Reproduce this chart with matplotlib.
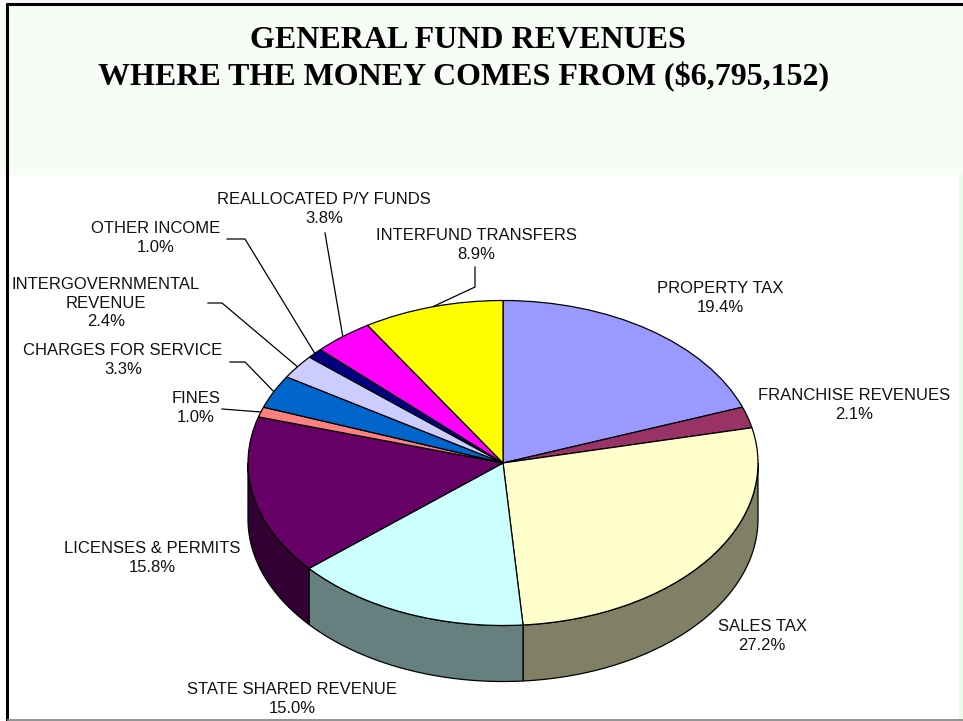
import numpy as np
import matplotlib
matplotlib.use("Agg")
import matplotlib.pyplot as plt
from matplotlib.patches import Polygon, Rectangle
from matplotlib.colors import to_rgb

# ---- data ----
names = ["PROPERTY TAX", "FRANCHISE REVENUES", "SALES TAX", "STATE SHARED REVENUE",
         "LICENSES & PERMITS", "FINES", "CHARGES FOR SERVICE",
         "INTERGOVERNMENTAL\nREVENUE", "OTHER INCOME", "REALLOCATED P/Y FUNDS",
         "INTERFUND TRANSFERS"]
shares = [19.4, 2.1, 27.2, 15.0, 15.8, 1.0, 3.3, 2.4, 1.0, 3.8, 8.9]
colors = ["#9999FF", "#993366", "#FFFFCC", "#CCFFFF", "#660066", "#FF8080",
          "#0066CC", "#CCCCFF", "#000080", "#FF00FF", "#FFFF00"]

title1 = "GENERAL FUND REVENUES"
title2 = "WHERE THE MONEY COMES FROM ($6,795,152)"

# label block centres (pixels)
label_pos = [(720, 298), (854, 405), (762, 636), (292, 699), (152, 558),
             (196, 408), (123, 360), (106, 303), (156, 238), (324, 209), (476, 245)]
# leader line starting points (pixels), None = no leader
leader_start = [None, None, None, None, None,
                [(222, 409)], [(230, 362), (245, 362)], [(208, 303), (222, 303)],
                [(227, 239), (245, 239)], [(325, 233)], [(475, 267), (475, 287)]]

W, H = 963, 721
fig = plt.figure(figsize=(W / 100, H / 100), dpi=100)
fig.patch.set_facecolor("white")

# background / frame layer in pixel coordinates
bg = fig.add_axes([0, 0, 1, 1])
bg.set_xlim(0, W)
bg.set_ylim(H, 0)
bg.axis("off")
bg.add_patch(Rectangle((0, 0), W, 175, color="#F8FCF6", lw=0))
bg.add_patch(Rectangle((959, 175), 4, H - 175, color="#EAFBEA", lw=0))
bg.plot([7, 7], [3, H], color="black", lw=2.2, solid_capstyle="butt")
bg.plot([6, W], [4, 4], color="black", lw=2.2, solid_capstyle="butt")
bg.plot([8, W], [719.8, 719.8], color="#8a8a8a", lw=1.3)

bg.text(468, 40, title1, ha="center", va="center", fontsize=23,
        family="Liberation Serif", weight="bold")
bg.text(464, 77, title2, ha="center", va="center", fontsize=23,
        family="Liberation Serif", weight="bold")

# pie geometry (pixels)
cx, cy, rx, ry, depth = 503, 463, 255, 162.5, 56
x0, x1, y0, y1 = -1.2, 1.2, -1.55, 1.2
ax = fig.add_axes([(cx + x0 * rx) / W, (H - (cy - y0 * ry)) / H,
                   (x1 - x0) * rx / W, (y1 - y0) * ry / H])

wedges, _ = ax.pie(shares, colors=colors, startangle=90, counterclock=False,
                   wedgeprops=dict(edgecolor="black", linewidth=0.9))
ax.set_aspect("auto")
ax.set_xlim(x0, x1)
ax.set_ylim(y0, y1)
ax.axis("off")

frac = np.array(shares) / sum(shares)
cum = np.concatenate([[0], np.cumsum(frac)])
ang0 = 90 - 360 * cum[:-1]
ang1 = 90 - 360 * cum[1:]
d = depth / ry

def shade(c, f=0.5):
    r, g, b = to_rgb(c)
    return (r * f, g * f, b * f)

# side walls for the front half
for i in range(len(shares)):
    lo, hi = max(ang1[i], -180), min(ang0[i], 0)
    if lo >= hi:
        continue
    t = np.radians(np.linspace(lo, hi, 80))
    xs, ys = np.cos(t), np.sin(t)
    pts = np.column_stack([np.r_[xs, xs[::-1]], np.r_[ys, ys[::-1] - d]])
    ax.add_patch(Polygon(pts, closed=True, facecolor=shade(colors[i]),
                         edgecolor="black", lw=0.9, zorder=0.5))

# labels and leader lines
mid = np.radians((ang0 + ang1) / 2)
for i, name in enumerate(names):
    lx, ly = label_pos[i]
    bg.text(lx, ly, f"{name}\n{shares[i]:.1f}%", ha="center", va="center",
            multialignment="center", fontsize=12, family="Liberation Sans",
            linespacing=1.3, color="#111111")
    if leader_start[i] is not None:
        ex = cx + rx * np.cos(mid[i])
        ey = cy - ry * np.sin(mid[i])
        pts = leader_start[i] + [(ex, ey)]
        bg.plot([p[0] for p in pts], [p[1] for p in pts], color="black", lw=0.9)

fig.savefig("out.png", dpi=100)
